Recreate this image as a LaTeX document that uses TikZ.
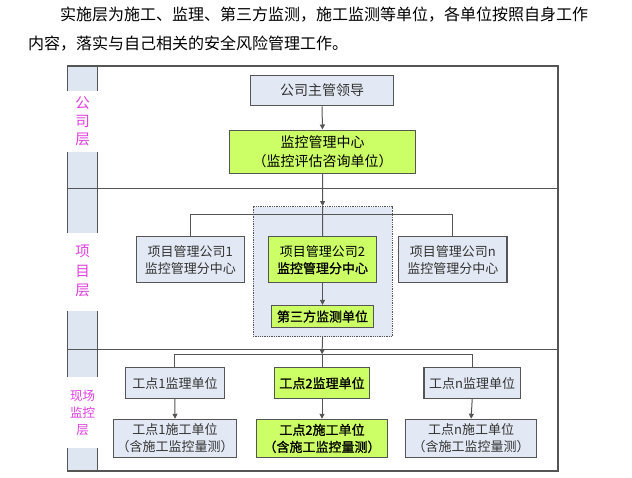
\documentclass[tikz,border=0pt]{standalone}
\usepackage{fontspec}
\setmainfont{Noto Sans CJK SC}
\newfontfamily\semib{Noto Sans CJK SC}[FakeBold=1.2]
\usetikzlibrary{arrows.meta}
\definecolor{lb}{HTML}{E3E9F4}
\definecolor{colbg}{HTML}{DEE6F2}
\definecolor{gr}{HTML}{CCFF66}
\definecolor{ln}{HTML}{555555}
\definecolor{mag}{HTML}{E03FE0}
\definecolor{tx}{HTML}{333333}
\tikzset{
  bx/.style={draw=ln, line width=1.1pt, fill=lb, inner sep=0pt, align=center, text=tx,
    font=\fontsize{13}{17}\selectfont},
  gbx/.style={bx, fill=gr, text=black},
  ar/.style={draw=ln, line width=1pt, -{Triangle[length=5pt,width=5pt]}},
  cn/.style={draw=ln, line width=1pt},
  lbl/.style={text=mag, align=center, inner sep=0pt},
}
\begin{document}
\begin{tikzpicture}[x=1pt,y=-1pt]
\useasboundingbox (0,0) rectangle (632,477);
% header text
\node[anchor=west, inner sep=0pt, font=\fontsize{16}{16}\selectfont] (h1) at (60,15) {实施层为施工、监理、第三方监测，施工监测等单位，各单位按照自身工作};
\node[anchor=west, inner sep=0pt, font=\fontsize{16}{16}\selectfont] (h2) at (28,44) {内容，落实与自己相关的安全风险管理工作。};
% frame and left column
\fill[colbg] (67.3,66) rectangle (97.7,471);
\draw[ln, line width=1.1pt] (67.3,66) rectangle (558,471);
\draw[ln, line width=1.1pt] (97.7,66) -- (97.7,471);
\draw[ln, line width=1.1pt] (67.3,188.3) -- (558,188.3);
\draw[ln, line width=1.1pt] (67.3,349.5) -- (558,349.5);
% white label patches
\fill[white] (66,91) rectangle (99,152);
\fill[white] (66,233) rectangle (99,311);
\fill[white] (66,376.5) rectangle (99,447.5);
\node[lbl, font=\fontsize{14.5}{18}\selectfont] (l1) at (82.5,121) {公\\司\\层};
\node[lbl, font=\fontsize{14.5}{19.5}\selectfont] (l2) at (82.5,271) {项\\目\\层};
\node[lbl, font=\fontsize{12.5}{17}\selectfont] (l3) at (82.5,412.5) {现场\\监控\\层};
% company layer
\node[bx, minimum width=143pt, minimum height=30.7pt, font=\fontsize{14}{18}\selectfont] (top) at (322,90.4) {公司主管领导};
\node[gbx, minimum width=186.4pt, minimum height=43.3pt, font=\fontsize{14}{18.3}\selectfont] (mc) at (322.5,151.7) {监控管理中心\\（监控评估咨询单位）};
% project layer
\node[draw=ln, line width=0.9pt, dash pattern=on 1.3pt off 1pt, fill=lb, minimum width=139.3pt, minimum height=130.2pt, inner sep=0pt] (db) at (322.6,271.6) {};
\node[bx, minimum width=107.8pt, minimum height=46pt] (p1) at (190.3,259.7) {项目管理公司1\\监控管理分中心};
\node[gbx, minimum width=108pt, minimum height=46pt] (p2) at (322.5,259.7) {项目管理公司2\\\semib 监控管理分中心};
\node[bx, minimum width=108.5pt, minimum height=46pt] (pn) at (452.75,259.7) {项目管理公司n\\监控管理分中心};
\node[gbx, minimum width=102.5pt, minimum height=22pt, font=\fontsize{13}{17}\semib] (tp) at (322.5,316.5) {第三方监测单位};
% site layer
\node[bx, minimum width=98.9pt, minimum height=30.8pt] (j1) at (174.9,383.2) {工点1监理单位};
\node[gbx, minimum width=95.7pt, minimum height=30.8pt, font=\fontsize{13}{17}\semib] (j2) at (322,383.2) {工点2监理单位};
\node[bx, minimum width=96.4pt, minimum height=30.8pt] (jn) at (472.2,383.2) {工点n监理单位};
\node[bx, minimum width=123.3pt, minimum height=38.2pt] (s1) at (175,438.4) {工点1施工单位\\（含施工监控量测）};
\node[gbx, minimum width=131.8pt, minimum height=38.2pt, font=\fontsize{13}{17}\semib] (s2) at (322,438.4) {工点2施工单位\\（含施工监控量测）};
\node[bx, minimum width=131.4pt, minimum height=38.2pt] (sn) at (471.1,438.4) {工点n施工单位\\（含施工监控量测）};
% connectors
\coordinate (b1) at (322.5,214.3);
\coordinate (b2) at (322,354.3);
\draw[ar] (top.south) -- (mc.north);
\draw[ar] (mc.south) -- (db.north);
\draw[cn] (db.north) -- (p2.north);
\draw[cn] (p1.north) |- (b1) -| (pn.north);
\draw[ar] (p2.south) -- (tp.north);
\draw[ar] (db.south) -- (b2);
\draw[cn] (b2) -- (j2.north);
\draw[cn] (j1.north) |- (b2) -| (jn.north);
\draw[ar] (j1.south) -- (s1.north);
\draw[ar] (j2.south) -- (s2.north);
\draw[ar] (jn.south) -- (sn.north);
\end{tikzpicture}
\end{document}
